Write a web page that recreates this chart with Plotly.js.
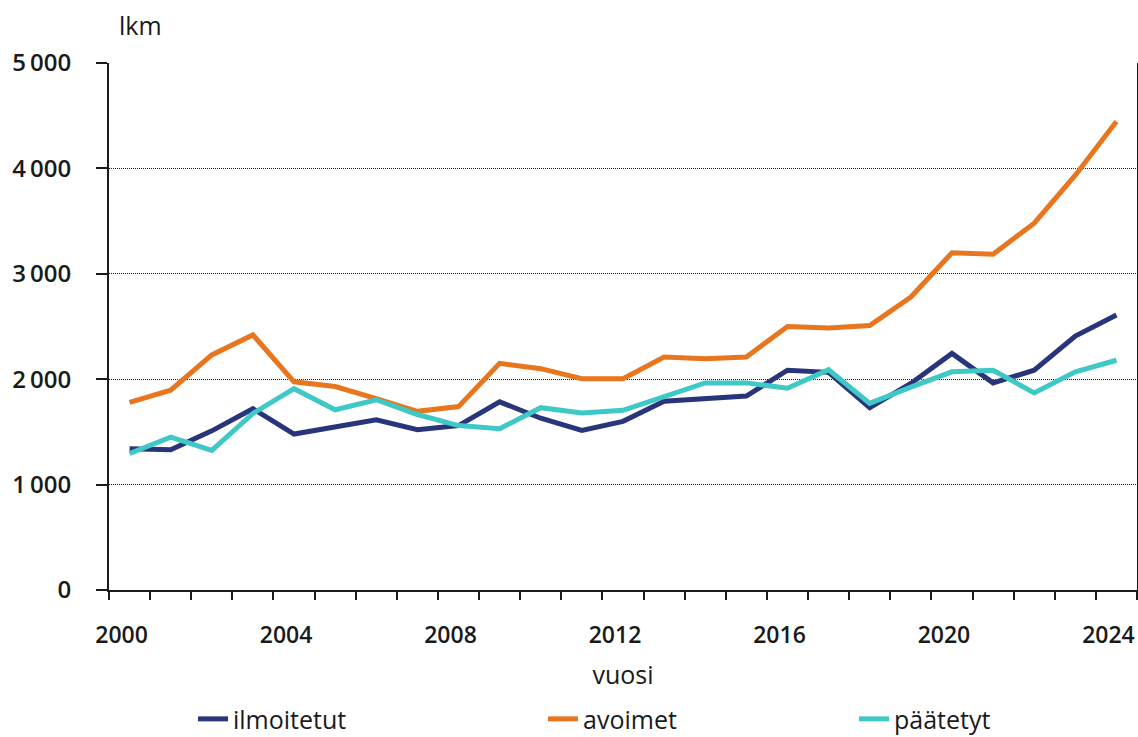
<!DOCTYPE html>
<html>
<head>
<meta charset="utf-8">
<script src="https://cdn.plot.ly/plotly-3.0.1.min.js"></script>
<style>
  html, body { margin: 0; padding: 0; background: #ffffff; }
  #chart { width: 1138px; height: 737px; }
</style>
</head>
<body>
<div id="chart"></div>
<script>
const years = [2000, 2001, 2002, 2003, 2004, 2005, 2006, 2007, 2008, 2009, 2010, 2011, 2012,
               2013, 2014, 2015, 2016, 2017, 2018, 2019, 2020, 2021, 2022, 2023, 2024];
const ilmoitetut = [1340, 1330, 1510, 1720, 1480, 1550, 1615, 1520, 1560, 1785, 1630, 1515, 1600,
                    1790, 1815, 1840, 2085, 2065, 1730, 1960, 2245, 1965, 2085, 2410, 2610];
const avoimet = [1780, 1895, 2230, 2420, 1975, 1930, 1815, 1695, 1740, 2150, 2100, 2005, 2005,
                 2210, 2195, 2210, 2500, 2485, 2510, 2780, 3200, 3185, 3480, 3935, 4445];
const paatetyt = [1295, 1450, 1325, 1675, 1910, 1710, 1805, 1665, 1560, 1530, 1730, 1680, 1705,
                  1840, 1965, 1965, 1915, 2090, 1770, 1925, 2070, 2085, 1870, 2070, 2180];
const seriesNames = ['ilmoitetut', 'avoimet', 'päätetyt'];
const xTickVals = [2000, 2004, 2008, 2012, 2016, 2020, 2024];
const xTickText = ['2000', '2004', '2008', '2012', '2016', '2020', '2024'];
const yTickVals = [0, 1000, 2000, 3000, 4000, 5000];
const yTickText = ['0', '1\u2009000', '2\u2009000', '3\u2009000', '4\u2009000', '5\u2009000'];

const colors = ['#29357a', '#e8761e', '#3ec8c6'];
const FONT = 'Open Sans, Noto Sans, sans-serif';
const legendIds = ['legend', 'legend2', 'legend3'];
const legendX = [0.0817, 0.4222, 0.7247];

const traces = [ilmoitetut, avoimet, paatetyt].map((ys, k) => ({
  type: 'scatter', mode: 'lines', x: years, y: ys, name: seriesNames[k],
  legend: legendIds[k],
  line: { color: colors[k], width: 5 }, hoverinfo: 'x+y+name'
}));

const layout = {
  width: 1138, height: 737,
  margin: { l: 109, r: 1, t: 63, b: 147, autoexpand: false },
  paper_bgcolor: '#ffffff', plot_bgcolor: '#ffffff',
  font: { family: FONT, color: '#1a1a1a', size: 24 },
  showlegend: true,
  xaxis: {
    range: [1999.5, 2024.5], tickmode: 'array', tickvals: xTickVals, ticktext: xTickText,
    ticks: '', showgrid: false, zeroline: false,
    showline: true, linecolor: '#1a1a1a', linewidth: 2,
    ticklabelstandoff: 23, ticklabeloverflow: 'allow', ticklabelshift: -8,
    tickfont: { family: FONT, size: 23, weight: 600, color: '#1a1a1a' },
    minor: { tick0: 1999.5, dtick: 1, ticks: 'outside', ticklen: 8, tickwidth: 2, tickcolor: '#1a1a1a', showgrid: false },
    title: { text: 'vuosi', font: { family: FONT, size: 25, color: '#1a1a1a' }, standoff: 18 },
    automargin: false,
    fixedrange: true
  },
  yaxis: {
    range: [0, 5000], tickmode: 'array', tickvals: yTickVals, ticktext: yTickText,
    ticks: 'outside', ticklen: 11, tickwidth: 2, tickcolor: '#1a1a1a',
    showgrid: true, gridcolor: '#1a1a1a', gridwidth: 1, griddash: '1px,1px',
    zeroline: false, showline: true, linecolor: '#1a1a1a', linewidth: 2, mirror: true,
    ticklabelstandoff: 20,
    tickfont: { family: FONT, size: 24, weight: 600, color: '#1a1a1a' },
    automargin: false,
    fixedrange: true
  },
  annotations: [{
    text: 'lkm', xref: 'paper', yref: 'paper', x: 0.008, y: 1.072,
    xanchor: 'left', yanchor: 'middle', showarrow: false,
    font: { family: FONT, size: 25, color: '#1a1a1a' }
  }]
};

legendIds.forEach((id, k) => {
  layout[id] = {
    orientation: 'h', x: legendX[k], xanchor: 'left', y: -0.245, yanchor: 'middle',
    bgcolor: 'rgba(0,0,0,0)',
    font: { family: FONT, size: 25, color: '#1a1a1a' }
  };
});

Plotly.newPlot('chart', traces, layout, { displayModeBar: false, staticPlot: true });
</script>
</body>
</html>
